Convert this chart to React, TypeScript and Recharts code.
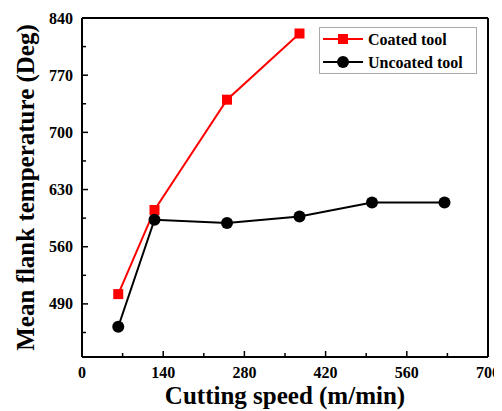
import React from 'react';
import { LineChart, Line, XAxis, YAxis, ReferenceLine } from 'recharts';

const speeds = [62.5, 125, 250, 375, 500, 625];
const coated = [502, 605, 740, 821, null, null];
const uncoated = [462, 593, 589, 597, 614, 614];
const yMajor = [490, 560, 630, 700, 770, 840];
const yTicks = [455, 490, 525, 560, 595, 630, 665, 700, 735, 770, 805, 840];
const xMajor = [0, 140, 280, 420, 560, 700];
const xTicks = [0, 70, 140, 210, 280, 350, 420, 490, 560, 630, 700];
const seriesNames = ['Coated tool', 'Uncoated tool'];

const data = speeds.map((s, i) => ({ speed: s, coated: coated[i], uncoated: uncoated[i] }));

const FONT = '"Liberation Serif", "Times New Roman", serif';

const YTick = (props: any) => {
  const { x, y, payload } = props;
  const major = yMajor.includes(payload.value);
  return (
    <g>
      <line x1={x} x2={x + (major ? 6 : 4)} y1={y} y2={y} stroke="#000" strokeWidth={1.5} />
      {major && (
        <text x={x - 9} y={y} dy={5.5} textAnchor="end" style={{ fontFamily: FONT, fontWeight: 'bold', fontSize: 16 }} fill="#000">
          {payload.value}
        </text>
      )}
    </g>
  );
};

const XTick = (props: any) => {
  const { x, y, payload } = props;
  const major = xMajor.includes(payload.value);
  return (
    <g>
      <line x1={x} x2={x} y1={y} y2={y - (major ? 6 : 4)} stroke="#000" strokeWidth={1.5} />
      {major && (
        <text x={x} y={y + 21} textAnchor="middle" style={{ fontFamily: FONT, fontWeight: 'bold', fontSize: 16 }} fill="#000">
          {payload.value}
        </text>
      )}
    </g>
  );
};

const Square = (props: any) => {
  const { cx, cy } = props;
  if (cx == null || cy == null) return <g />;
  return <rect x={cx - 5} y={cy - 5} width={10} height={10} fill="#ff0000" />;
};

const LegendBox = () => (
  <svg width={158} height={47} style={{ display: 'block' }}>
    <rect x={0.5} y={0.5} width={157} height={46} fill="#fff" stroke="#aaa" strokeWidth={1} />
    <line x1={4} x2={44} y1={12} y2={12} stroke="#ff0000" strokeWidth={2} />
    <rect x={19} y={7} width={10} height={10} fill="#ff0000" />
    <text x={49} y={17.5} style={{ fontFamily: FONT, fontWeight: 'bold', fontSize: 16 }} fill="#000">{seriesNames[0]}</text>
    <line x1={4} x2={44} y1={35} y2={35} stroke="#000" strokeWidth={2} />
    <circle cx={24} cy={35} r={6} fill="#000" />
    <text x={49} y={40.5} style={{ fontFamily: FONT, fontWeight: 'bold', fontSize: 16 }} fill="#000">{seriesNames[1]}</text>
  </svg>
);

export default function App() {
  return (
    <div style={{ position: 'relative', width: 494, height: 403 }}>
      <LineChart width={494} height={403} data={data} margin={{ top: 10, right: 14, left: 0, bottom: 0 }}>
        <XAxis
          dataKey="speed"
          type="number"
          domain={[0, 700]}
          ticks={xTicks}
          interval={0}
          tickSize={0}
          tickMargin={0}
          tickLine={false}
          tick={<XTick />}
          axisLine={{ stroke: '#000', strokeWidth: 2 }}
          height={54}
          label={{
            value: 'Cutting speed (m/min)',
            position: 'insideBottom',
            offset: 7,
            style: { fontFamily: FONT, fontWeight: 'bold', fontSize: 25, fill: '#000' },
          }}
        />
        <YAxis
          type="number"
          domain={[425, 840]}
          ticks={yTicks}
          interval={0}
          tickSize={0}
          tickMargin={0}
          tickLine={false}
          tick={<YTick />}
          axisLine={{ stroke: '#000', strokeWidth: 2 }}
          width={74}
          allowDataOverflow
          label={{
            value: 'Mean flank temperature (Deg)',
            angle: -90,
            position: 'insideLeft',
            offset: 17,
            style: { fontFamily: FONT, fontWeight: 'bold', fontSize: 25, fill: '#000', textAnchor: 'middle' },
          }}
        />
        <ReferenceLine y={840} stroke="#000" strokeWidth={2} />
        <ReferenceLine x={700} stroke="#000" strokeWidth={2} />
        <Line
          dataKey="coated"
          name={seriesNames[0]}
          stroke="#ff0000"
          strokeWidth={2}
          dot={<Square />}
          isAnimationActive={false}
          connectNulls={false}
        />
        <Line
          dataKey="uncoated"
          name={seriesNames[1]}
          stroke="#000"
          strokeWidth={2}
          dot={{ r: 6, fill: '#000', stroke: '#000', strokeWidth: 0 }}
          isAnimationActive={false}
        />
      </LineChart>
      <div style={{ position: 'absolute', left: 311, top: 19 }}>
        <LegendBox />
      </div>
    </div>
  );
}
